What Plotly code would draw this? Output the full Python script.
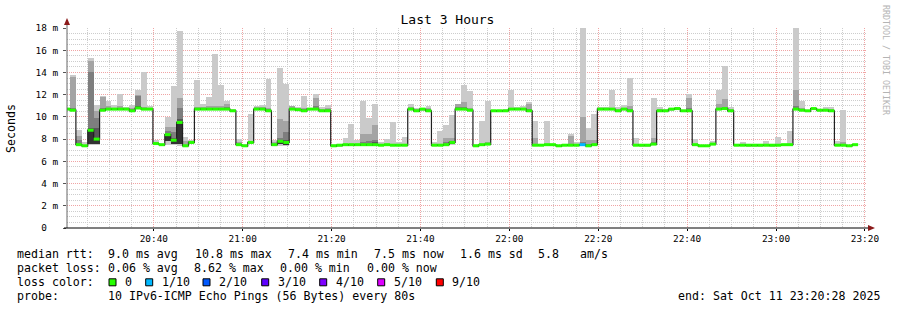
import plotly.graph_objects as go
import pandas as pd

# ---------------- data ----------------
first_step_start = "2025-10-11 20:19:48"
step_seconds = 80
range_start = "2025-10-11 20:20:28"
range_end = "2025-10-11 23:20:28"

median_ms = [
    10.7, 10.6, 7.5, 7.4, 8.8, 8.0, 10.6, 10.7, 10.7, 10.7,
    10.7, 10.55, 10.8, 10.7, 10.7, 7.6, 7.5, 8.4, 7.9, 9.5,
    7.4, 7.7, 10.7, 10.7, 10.7, 10.7, 10.7, 10.7, 10.55, 7.5,
    7.4, 7.7, 10.7, 10.7, 10.55, 7.5, 7.8, 7.7, 10.7, 10.65,
    10.55, 10.7, 10.7, 10.55, 10.55, 7.4, 7.45, 7.5, 7.5, 7.5,
    7.5, 7.5, 7.5, 7.45, 7.5, 7.45, 7.45, 7.45, 10.7, 10.55,
    10.7, 10.55, 7.45, 7.45, 7.5, 7.7, 10.7, 10.7, 10.6, 7.4,
    7.5, 7.55, 10.55, 10.55, 10.55, 10.7, 10.7, 10.7, 10.55, 7.45,
    7.45, 7.5, 7.5, 7.4, 7.45, 7.45, 7.45, 7.5, 7.4, 7.5,
    10.7, 10.7, 10.7, 10.55, 10.7, 10.55, 7.45, 7.45, 7.45, 7.55,
    10.55, 10.55, 10.7, 10.75, 10.55, 10.55, 7.5, 7.4, 7.4, 7.55,
    10.7, 10.75, 10.55, 7.45, 7.45, 7.45, 7.45, 7.45, 7.45, 7.45,
    7.45, 7.5, 7.5, 10.7, 10.6, 10.55, 10.75, 10.6, 10.6, 10.55,
    7.45, 7.45, 7.4, 7.5,
]

ping10_ms = [
    10.8, 13.8, 8.8, 7.7, 15.3, 11.1, 11.9, 11.4, 11.1, 12.1,
    10.9, 11.1, 12.4, 14.0, 11.0, 7.9, 7.6, 10.0, 12.8, 17.7,
    8.2, 7.9, 13.3, 11.2, 11.8, 15.7, 12.9, 11.4, 10.7, 8.0,
    7.6, 10.3, 11.0, 11.1, 13.4, 7.9, 14.4, 13.0, 11.0, 10.9,
    11.9, 10.8, 12.1, 10.9, 11.1, 7.55, 7.5, 8.1, 9.4, 7.9,
    11.4, 9.9, 11.2, 7.7, 8.0, 9.5, 7.7, 8.2, 11.2, 10.8,
    10.75, 11.0, 7.7, 8.7, 9.3, 10.2, 11.2, 12.9, 12.3, 7.55,
    9.6, 11.4, 10.6, 10.6, 10.7, 12.4, 10.9, 11.0, 11.3, 9.6,
    7.55, 9.6, 7.6, 7.45, 7.6, 8.5, 7.7, 18.5, 9.0, 10.3,
    10.85, 10.9, 12.4, 10.9, 11.1, 13.5, 8.1, 7.5, 7.5, 11.7,
    10.9, 10.7, 10.75, 10.85, 10.6, 12.1, 8.0, 7.5, 7.45, 7.85,
    12.4, 14.6, 10.9, 7.55, 7.7, 7.5, 7.5, 7.5, 7.85, 7.5,
    8.2, 7.55, 8.7, 18.5, 11.4, 10.6, 10.8, 10.65, 10.9, 10.9,
    7.85, 10.6, 7.45, 7.55,
]

ping9_ms = [
    10.75, 13.6, 8.3, 7.5, 15.0, 10.5, 11.8, 11.0, 10.8, 11.0,
    10.8, 10.8, 12.0, 10.9, 10.8, 7.7, 7.55, 9.1, 9.1, 11.7,
    7.8, 7.8, 10.9, 10.9, 11.0, 11.0, 11.0, 11.2, 10.6, 7.7,
    7.5, 7.8, 10.9, 10.9, 10.8, 7.7, 9.8, 9.6, 10.95, 10.8,
    10.8, 10.75, 11.7, 10.7, 10.8, 7.5, 7.5, 7.6, 7.6, 7.6,
    8.5, 8.5, 9.3, 7.55, 7.6, 7.6, 7.55, 7.6, 10.9, 10.7,
    10.7, 10.8, 7.55, 7.6, 8.1, 8.1, 11.15, 11.3, 10.8, 7.5,
    7.6, 7.7, 10.6, 10.6, 10.6, 10.8, 10.8, 10.8, 11.2, 8.1,
    7.5, 7.6, 7.55, 7.45, 7.5, 8.3, 7.55, 10.0, 7.9, 7.9,
    10.8, 10.8, 10.8, 10.7, 10.8, 11.0, 7.6, 7.5, 7.5, 8.1,
    10.7, 10.6, 10.7, 10.8, 10.6, 11.7, 7.6, 7.45, 7.45, 7.6,
    11.15, 11.6, 10.7, 7.5, 7.5, 7.5, 7.5, 7.5, 7.5, 7.5,
    7.6, 7.55, 7.6, 12.4, 10.8, 10.6, 10.8, 10.65, 10.7, 10.7,
    7.6, 7.7, 7.45, 7.55,
]

ping8_ms = [
    10.7, 10.8, 7.9, 7.45, 14.0, 9.9, 10.8, 10.8, 10.75, 10.8,
    10.75, 10.7, 11.9, 10.8, 10.75, 7.65, 7.5, 8.7, 8.6, 10.8,
    7.5, 7.75, 10.8, 10.8, 10.8, 10.8, 10.8, 10.9, 10.6, 7.6,
    7.45, 7.75, 10.8, 10.8, 10.7, 7.6, 8.1, 8.6, 10.8, 10.7,
    10.7, 10.7, 11.0, 10.65, 10.7, 7.45, 7.45, 7.55, 7.55, 7.55,
    7.7, 7.8, 7.9, 7.5, 7.55, 7.5, 7.5, 7.5, 10.8, 10.6,
    10.7, 10.7, 7.5, 7.5, 7.7, 7.8, 10.9, 10.9, 10.7, 7.45,
    7.55, 7.6, 10.55, 10.55, 10.6, 10.75, 10.75, 10.75, 10.7, 7.6,
    7.5, 7.55, 7.5, 7.4, 7.5, 7.6, 7.5, 7.7, 7.6, 7.6,
    10.75, 10.75, 10.75, 10.6, 10.75, 10.7, 7.5, 7.45, 7.45, 7.7,
    10.6, 10.55, 10.7, 10.75, 10.55, 10.8, 7.55, 7.4, 7.4, 7.55,
    10.8, 10.85, 10.6, 7.45, 7.45, 7.45, 7.45, 7.45, 7.45, 7.45,
    7.5, 7.5, 7.5, 11.0, 10.7, 10.55, 10.75, 10.6, 10.6, 10.6,
    7.5, 7.5, 7.4, 7.5,
]

ping7_ms = [
    10.7, 10.7, 7.6, 7.4, 9.0, 9.0, 10.7, 10.75, 10.7, 10.75,
    10.7, 10.6, 11.0, 10.75, 10.7, 7.6, 7.5, 8.5, 8.1, 9.8,
    7.45, 7.7, 10.75, 10.75, 10.75, 10.75, 10.75, 10.75, 10.55, 7.55,
    7.4, 7.7, 10.75, 10.75, 10.6, 7.55, 7.9, 7.9, 10.75, 10.7,
    10.6, 10.7, 10.8, 10.6, 10.6, 7.4, 7.45, 7.5, 7.5, 7.5,
    7.6, 7.6, 7.7, 7.45, 7.5, 7.45, 7.45, 7.45, 10.75, 10.6,
    10.7, 10.6, 7.45, 7.45, 7.6, 7.75, 10.75, 10.75, 10.6, 7.4,
    7.5, 7.55, 10.55, 10.55, 10.55, 10.7, 10.7, 10.7, 10.6, 7.5,
    7.45, 7.5, 7.5, 7.4, 7.45, 7.5, 7.45, 7.6, 7.5, 7.55,
    10.7, 10.7, 10.7, 10.55, 10.7, 10.6, 7.5, 7.45, 7.45, 7.6,
    10.55, 10.55, 10.7, 10.75, 10.55, 10.6, 7.5, 7.4, 7.4, 7.55,
    10.75, 10.8, 10.55, 7.45, 7.45, 7.45, 7.45, 7.45, 7.45, 7.45,
    7.45, 7.5, 7.5, 10.8, 10.6, 10.55, 10.75, 10.6, 10.6, 10.55,
    7.45, 7.5, 7.4, 7.5,
]

ping5_ms = [
    10.65, 10.55, 7.45, 7.35, 7.6, 7.6, 10.55, 10.65, 10.65, 10.65,
    10.65, 10.5, 10.75, 10.65, 10.65, 7.55, 7.45, 7.8, 7.6, 7.6,
    7.35, 7.65, 10.65, 10.65, 10.65, 10.65, 10.65, 10.65, 10.5, 7.45,
    7.35, 7.65, 10.65, 10.65, 10.5, 7.45, 7.6, 7.5, 10.65, 10.6,
    10.5, 10.65, 10.65, 10.5, 10.5, 7.35, 7.4, 7.45, 7.45, 7.45,
    7.45, 7.45, 7.45, 7.4, 7.45, 7.4, 7.4, 7.4, 10.65, 10.5,
    10.65, 10.5, 7.4, 7.4, 7.45, 7.6, 10.65, 10.65, 10.55, 7.35,
    7.45, 7.5, 10.5, 10.5, 10.5, 10.65, 10.65, 10.65, 10.5, 7.4,
    7.4, 7.45, 7.45, 7.35, 7.4, 7.4, 7.4, 7.45, 7.35, 7.45,
    10.65, 10.65, 10.65, 10.5, 10.65, 10.5, 7.4, 7.4, 7.4, 7.5,
    10.5, 10.5, 10.65, 10.7, 10.5, 10.5, 7.45, 7.35, 7.35, 7.5,
    10.65, 10.7, 10.5, 7.4, 7.4, 7.4, 7.4, 7.4, 7.4, 7.4,
    7.4, 7.45, 7.45, 10.65, 10.55, 10.5, 10.7, 10.55, 10.55, 10.5,
    7.4, 7.4, 7.35, 7.45,
]

ping1_ms = [
    10.6, 10.5, 7.4, 7.3, 7.5, 7.5, 10.5, 10.6, 10.6, 10.6,
    10.6, 10.45, 10.7, 10.6, 10.6, 7.5, 7.4, 7.5, 7.5, 7.4,
    7.3, 7.6, 10.6, 10.6, 10.6, 10.6, 10.6, 10.6, 10.45, 7.4,
    7.3, 7.6, 10.6, 10.6, 10.45, 7.4, 7.4, 7.4, 10.6, 10.55,
    10.45, 10.6, 10.6, 10.45, 10.45, 7.3, 7.35, 7.4, 7.4, 7.4,
    7.4, 7.4, 7.4, 7.35, 7.4, 7.35, 7.35, 7.35, 10.6, 10.45,
    10.6, 10.45, 7.35, 7.35, 7.4, 7.5, 10.6, 10.6, 10.5, 7.3,
    7.4, 7.45, 10.45, 10.45, 10.45, 10.6, 10.6, 10.6, 10.45, 7.35,
    7.35, 7.4, 7.4, 7.3, 7.35, 7.35, 7.35, 7.4, 7.3, 7.4,
    10.6, 10.6, 10.6, 10.45, 10.6, 10.45, 7.35, 7.35, 7.35, 7.45,
    10.45, 10.45, 10.6, 10.65, 10.45, 10.45, 7.4, 7.3, 7.3, 7.45,
    10.6, 10.65, 10.45, 7.35, 7.35, 7.35, 7.35, 7.35, 7.35, 7.35,
    7.35, 7.4, 7.4, 10.6, 10.5, 10.45, 10.65, 10.5, 10.5, 10.45,
    7.35, 7.35, 7.3, 7.4,
]

lost_pings = [
    0, 0, 0, 0, 0, 0, 0, 0, 0, 0,
    0, 0, 0, 0, 0, 0, 0, 0, 0, 0,
    0, 0, 0, 0, 0, 0, 0, 0, 0, 0,
    0, 0, 0, 0, 0, 0, 0, 0, 0, 0,
    0, 0, 0, 0, 0, 0, 0, 0, 0, 0,
    0, 0, 0, 0, 0, 0, 0, 0, 0, 0,
    0, 0, 0, 0, 0, 0, 0, 0, 0, 0,
    0, 0, 0, 0, 0, 0, 0, 0, 0, 0,
    0, 0, 0, 0, 0, 0, 0, 1, 0, 0,
    0, 0, 0, 0, 0, 0, 0, 0, 0, 0,
    0, 0, 0, 0, 0, 0, 0, 0, 0, 0,
    0, 0, 0, 0, 0, 0, 0, 0, 0, 0,
    0, 0, 0, 0, 0, 0, 0, 0, 0, 0,
    0, 0, 0, 0,
]

x_tick_times = ["2025-10-11 20:40", "2025-10-11 21:00", "2025-10-11 21:20",
                "2025-10-11 21:40", "2025-10-11 22:00", "2025-10-11 22:20",
                "2025-10-11 22:40", "2025-10-11 23:00", "2025-10-11 23:20"]
x_tick_labels = ["20:40", "21:00", "21:20", "21:40", "22:00", "22:20",
                 "22:40", "23:00", "23:20"]
y_tick_values = [0, 2, 4, 6, 8, 10, 12, 14, 16, 18]
y_tick_labels = ["0\u00a0\u00a0", "2 m", "4 m", "6 m", "8 m", "10 m",
                 "12 m", "14 m", "16 m", "18 m"]

loss_levels = [0, 1, 2, 3, 4, 5, 9]
loss_labels = ["0", "1/10", "2/10", "3/10", "4/10", "5/10", "9/10"]
loss_colors = ["#26ff00", "#00b8ff", "#0059ff", "#5e00ff", "#7e00ff", "#dd00ff", "#ff0000"]

stats_rtt = ["9.0 ms avg", "10.8 ms max", "7.4 ms min", "7.5 ms now", "1.6 ms sd", "5.8", "am/s"]
stats_loss = ["0.06 % avg", "8.62 % max", "0.00 % min", "0.00 % now"]
probe_text = "10 IPv6-ICMP Echo Pings (56 Bytes) every 80s"
end_text = "end: Sat Oct 11 23:20:28 2025"

# ---------------- layout geometry ----------------
W, H = 897, 310
PL, PR, PT, PB = 67, 867, 28, 228   # plot area in pixels


def px(x):
    return (x - PL) / (PR - PL)


def py(y):
    return (PB - y) / (PB - PT)


MONO = "DejaVu Sans Mono"

n = len(median_ms)
starts = pd.date_range(first_step_start, periods=n, freq=f"{step_seconds}s")
ends = starts + pd.Timedelta(seconds=step_seconds)
centers = starts + pd.Timedelta(seconds=step_seconds / 2)
width_ms = step_seconds * 1000

fig = go.Figure()

# smoke bands: band i spans ping_i .. ping_(11-i)
band_tops = [ping10_ms, ping9_ms, ping8_ms, ping7_ms, median_ms]
band_bottoms = [ping1_ms, ping5_ms, ping5_ms, ping5_ms, ping5_ms]
band_colors = ["#cacaca", "#a4a4a4", "#7e7e7e", "#585858", "#323232"]
for top, bot, col in zip(band_tops, band_bottoms, band_colors):
    fig.add_trace(go.Bar(
        x=centers, y=[t - b for t, b in zip(top, bot)], base=bot,
        width=width_ms, marker=dict(color=col, line=dict(width=0)),
        showlegend=False, hoverinfo="skip"))

# thin dark median step line
fig.add_trace(go.Scatter(
    x=list(starts) + [ends[-1]], y=median_ms + [median_ms[-1]],
    mode="lines", line=dict(color="#202020", width=1.2, shape="hv"),
    showlegend=False, hoverinfo="skip"))

# loss-coloured median segments
for lvl, col in zip(loss_levels, loss_colors):
    xs, ys = [], []
    for i in range(n):
        if lost_pings[i] == lvl:
            xs += [starts[i], ends[i], None]
            ys += [median_ms[i], median_ms[i], None]
    if xs:
        fig.add_trace(go.Scatter(
            x=xs, y=ys, mode="lines", line=dict(color=col, width=3),
            showlegend=False, hoverinfo="skip"))

major_grid = "#f0a4a4"
minor_grid = "#cdcdcd"

fig.update_xaxes(
    type="date", range=[range_start, range_end],
    tickvals=x_tick_times, ticktext=x_tick_labels,
    tickfont=dict(family=MONO, size=9.4, color="black"),
    showgrid=True, gridcolor=major_grid, griddash="1px,1px", gridwidth=1,
    minor=dict(dtick=300000, tick0="2025-10-11 20:00:00", showgrid=True,
               gridcolor=minor_grid, griddash="1px,1px", gridwidth=1,
               ticks=""),
    ticks="outside", ticklen=2, tickcolor="black",
    showline=False, zeroline=False, fixedrange=True)

fig.update_yaxes(
    range=[0, 18], tickvals=y_tick_values, ticktext=y_tick_labels,
    tickfont=dict(family=MONO, size=9.4, color="black"),
    showgrid=True, gridcolor=major_grid, griddash="1px,1px", gridwidth=1,
    minor=dict(dtick=0.5, showgrid=True, gridcolor=minor_grid,
               griddash="1px,1px", gridwidth=1, ticks=""),
    ticks="outside", ticklen=3, tickcolor="#555", ticklabelstandoff=3,
    showline=False, zeroline=False, fixedrange=True)

shapes = []
# axes with arrow heads
shapes.append(dict(type="line", xref="paper", yref="paper",
                   x0=px(PL), x1=px(PL), y0=py(PB), y1=py(21),
                   line=dict(color="#666666", width=1)))
shapes.append(dict(type="line", xref="paper", yref="paper",
                   x0=px(64), x1=px(871), y0=py(PB), y1=py(PB),
                   line=dict(color="black", width=1)))
shapes.append(dict(type="path", xref="paper", yref="paper",
                   path=f"M {px(64)} {py(25)} L {px(70)} {py(25)} L {px(67)} {py(18)} Z",
                   fillcolor="#8b1a1a", line=dict(width=0)))
shapes.append(dict(type="path", xref="paper", yref="paper",
                   path=f"M {px(868)} {py(225)} L {px(868)} {py(231)} L {px(875)} {py(228)} Z",
                   fillcolor="#8b1a1a", line=dict(width=0)))

annotations = []


def text(t, x, y, anchor="left", size=11.6, color="black", angle=0):
    annotations.append(dict(
        text=t, xref="paper", yref="paper", x=px(x), y=py(y),
        xanchor=anchor, yanchor="middle", showarrow=False, borderpad=0,
        textangle=angle, font=dict(family=MONO, size=size, color=color)))


# rows of the legend
row_y = [254.3, 268.3, 282.3, 296.0]
text("median rtt:", 16, row_y[0])
for t, x in zip(stats_rtt, [107.3, 194.3, 287.3, 372.7, 458.5, 537.3, 579.0]):
    text(t, x, row_y[0])
text("packet loss:", 16, row_y[1])
for t, x in zip(stats_loss, [107.3, 193.3, 279.3, 365.7]):
    text(t, x, row_y[1])
text("loss color:", 16, row_y[2])
square_x = [109.0, 145.7, 203.0, 261.7, 319.7, 377.7, 436.3]
for lab, col, sx in zip(loss_labels, loss_colors, square_x):
    shapes.append(dict(type="rect", xref="paper", yref="paper",
                       x0=px(sx), x1=px(sx + 7), y0=py(row_y[2] - 3.5), y1=py(row_y[2] + 3.5),
                       fillcolor=col, line=dict(color="black", width=1)))
    text(lab, sx + 15, row_y[2])
text("probe:", 16, row_y[3])
text(probe_text, 107.3, row_y[3])
text(end_text, 881, row_y[3], anchor="right")

# axis title and watermark
text("Seconds", 11, 128, anchor="center", angle=-90)
text("RRDTOOL / TOBI OETIKER", 886, 60, anchor="center", size=8.3,
     color="#b4b4b4", angle=90)

fig.update_layout(
    width=W, height=H,
    margin=dict(l=PL, r=W - PR, t=PT, b=H - PB),
    paper_bgcolor="white", plot_bgcolor="white",
    barmode="overlay", bargap=0,
    title=dict(text="Last 3 Hours", x=447.5 / W, y=1 - 19 / H,
               xref="container", yref="container",
               xanchor="center", yanchor="middle",
               font=dict(family=MONO, size=13, color="black")),
    shapes=shapes, annotations=annotations,
    showlegend=False,
)

fig.write_html("out.html", config={"displayModeBar": False})
